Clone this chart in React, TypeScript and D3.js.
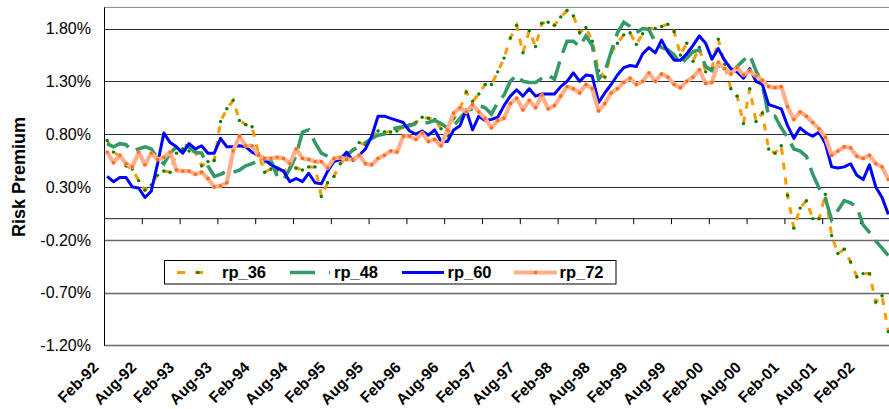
import React from "react";
import * as d3 from "d3";

const tickLabels = ["Feb-92","Aug-92","Feb-93","Aug-93","Feb-94","Aug-94","Feb-95","Aug-95","Feb-96","Aug-96","Feb-97","Aug-97","Feb-98","Aug-98","Feb-99","Aug-99","Feb-00","Aug-00","Feb-01","Aug-01","Feb-02"];
const yTicks = [1.8, 1.3, 0.8, 0.3, -0.2, -0.7, -1.2];
const seriesNames = ["rp_36", "rp_48", "rp_60", "rp_72"];

const rp36 = [0.74,0.63,0.59,0.50,0.47,0.36,0.27,0.32,0.41,0.45,0.44,0.62,0.66,0.64,0.63,0.50,0.54,0.55,0.92,1.04,1.12,0.93,0.89,0.87,0.62,0.44,0.47,0.46,0.45,0.48,0.48,0.46,0.49,0.49,0.21,0.34,0.40,0.52,0.58,0.65,0.72,0.70,0.76,0.83,0.82,0.82,0.83,0.87,0.89,0.91,0.96,0.95,0.94,0.85,0.79,0.95,1.04,1.20,1.11,1.18,1.27,1.27,1.39,1.52,1.71,1.83,1.57,1.78,1.63,1.85,1.86,1.83,1.91,1.97,1.92,1.76,1.81,1.68,1.40,1.34,1.57,1.66,1.74,1.76,1.65,1.75,1.80,1.80,1.82,1.84,1.77,1.55,1.66,1.49,1.62,1.39,1.42,1.70,1.46,1.23,1.16,0.90,1.23,0.92,1.00,0.66,0.62,0.69,0.22,-0.09,0.10,0.17,0.00,0.00,0.23,-0.16,-0.33,-0.29,-0.41,-0.55,-0.52,-0.52,-0.79,-0.73,-1.07];
const rp48 = [0.71,0.68,0.71,0.70,0.64,0.66,0.68,0.66,0.57,0.52,0.62,0.68,0.70,0.68,0.63,0.62,0.50,0.40,0.42,0.45,0.44,0.46,0.50,0.52,0.55,0.54,0.55,0.40,0.37,0.47,0.60,0.82,0.84,0.72,0.62,0.59,0.58,0.56,0.60,0.65,0.68,0.72,0.76,0.79,0.80,0.84,0.86,0.87,0.88,0.90,0.90,0.91,0.93,0.90,0.86,0.88,0.95,1.02,1.04,1.07,1.05,0.99,1.10,1.17,1.30,1.36,1.30,1.29,1.29,1.33,1.36,1.32,1.52,1.68,1.68,1.63,1.73,1.64,1.32,1.39,1.58,1.76,1.86,1.82,1.76,1.80,1.79,1.67,1.62,1.60,1.55,1.46,1.52,1.58,1.60,1.44,1.40,1.45,1.42,1.38,1.44,1.50,1.55,1.40,1.27,0.97,0.97,0.86,0.77,0.66,0.64,0.59,0.42,0.29,0.19,-0.01,0.08,0.17,0.15,0.11,-0.06,-0.13,-0.21,-0.28,-0.35];
const rp60 = [0.40,0.35,0.39,0.39,0.30,0.29,0.20,0.26,0.52,0.81,0.72,0.68,0.62,0.71,0.66,0.69,0.62,0.62,0.76,0.68,0.68,0.69,0.68,0.63,0.60,0.56,0.51,0.48,0.45,0.35,0.38,0.35,0.43,0.34,0.33,0.45,0.54,0.56,0.63,0.55,0.60,0.66,0.78,0.97,0.97,0.95,0.93,0.91,0.83,0.80,0.83,0.79,0.84,0.73,0.73,0.84,0.88,1.03,0.84,0.97,0.93,0.94,0.96,1.07,1.16,1.22,1.16,1.23,1.16,1.18,1.18,1.18,1.25,1.30,1.38,1.30,1.36,1.35,1.10,1.19,1.27,1.36,1.43,1.45,1.44,1.56,1.62,1.57,1.69,1.58,1.50,1.50,1.56,1.64,1.73,1.66,1.51,1.61,1.50,1.42,1.39,1.33,1.42,1.30,1.27,1.08,1.06,1.04,0.88,0.76,0.86,0.81,0.78,0.82,0.71,0.49,0.48,0.49,0.52,0.41,0.37,0.51,0.30,0.20,0.04];
const rp72 = [0.63,0.53,0.60,0.52,0.49,0.63,0.51,0.62,0.56,0.58,0.63,0.46,0.45,0.45,0.42,0.44,0.38,0.30,0.31,0.34,0.64,0.78,0.69,0.69,0.60,0.57,0.57,0.58,0.57,0.52,0.66,0.57,0.56,0.54,0.54,0.48,0.57,0.58,0.56,0.56,0.60,0.52,0.51,0.57,0.60,0.64,0.63,0.78,0.78,0.75,0.81,0.73,0.75,0.69,0.84,1.00,1.05,1.01,1.08,1.01,0.95,0.86,0.93,0.95,1.09,1.14,1.03,1.12,1.05,1.17,1.04,1.07,1.16,1.25,1.23,1.19,1.27,1.23,1.02,1.09,1.19,1.23,1.29,1.33,1.27,1.30,1.38,1.30,1.37,1.34,1.27,1.24,1.30,1.34,1.41,1.28,1.29,1.48,1.42,1.37,1.43,1.36,1.40,1.35,1.31,1.25,1.24,1.25,1.06,0.94,1.01,0.97,0.91,0.85,0.77,0.60,0.64,0.68,0.67,0.59,0.57,0.60,0.52,0.49,0.37];

const W = 889, H = 409;
const X0 = 104, STEP = 6.3, N = 125;
const x = d3.scaleLinear().domain([0, N]).range([X0, X0 + N * STEP]);
const y = d3.scaleLinear().domain([-1.2, 2.0]).range([345.4, 7.4]);
const line = d3.line<number>().x((_, i) => x(i + 0.5)).y((v) => y(v));

const FONT = "'Liberation Sans', Arial, Helvetica, sans-serif";

export default function App() {
  const plotRight = W;
  const legendX = [177, 290, 402, 514];
  return (
    <svg width={W} height={H} style={{ position: "fixed", left: 0, top: 0, background: "#fff" }} fontFamily={FONT}>
      <rect x={0} y={0} width={W} height={H} fill="#fff" />
      <line x1={X0} x2={plotRight} y1={y(2.0)} y2={y(2.0)} stroke="#888" strokeWidth={1} />
      {yTicks.map((t) => (
        <line key={t} x1={X0} x2={plotRight} y1={Math.round(y(t)) + 0.5} y2={Math.round(y(t)) + 0.5}
          stroke={t < 0 ? "#6a6a6a" : "#2a2a2a"} strokeWidth={t < 0 ? 1.4 : 1} />
      ))}
      {yTicks.map((t) => (
        <text key={"l" + t} x={91} y={y(t)} dy="0.36em" textAnchor="end" fontSize={16} fill="#000">
          {t.toFixed(2) + "%"}
        </text>
      ))}
      <line x1={X0 + 0.5} x2={X0 + 0.5} y1={y(2.0)} y2={y(-1.2)} stroke="#000" strokeWidth={1} />
      <line x1={X0} x2={plotRight} y1={y(0)} y2={y(0)} stroke="#222" strokeWidth={1} />
      {tickLabels.map((lab, k) => (
        <line key={"t" + k} x1={x(6 * k) + 0.5} x2={x(6 * k) + 0.5} y1={y(0)} y2={y(0) + 5.5} stroke="#000" strokeWidth={1} />
      ))}
      {tickLabels.map((lab, k) => (
        <text key={"x" + k} transform={`translate(${x(6 * k) - 4.5},368.5) rotate(-45)`} textAnchor="end" fontSize={15.5} fontWeight="bold" fill="#000">
          {lab}
        </text>
      ))}
      <text transform="translate(25,177) rotate(-90)" textAnchor="middle" fontSize={18} fontWeight="bold" fill="#000">
        Risk Premium
      </text>

      <path d={line(rp36) || ""} fill="none" stroke="#FF9900" strokeWidth={3} strokeDasharray="7,8" />
      {rp36.map((v, i) => (
        <circle key={"m36" + i} cx={x(i + 0.5)} cy={y(v)} r={1.7} fill="#008000" />
      ))}
      <path d={line(rp48) || ""} fill="none" stroke="#339966" strokeWidth={3.5} strokeDasharray="24,9" />
      <path d={line(rp60) || ""} fill="none" stroke="#0000FF" strokeWidth={3} strokeLinejoin="round" />
      <path d={line(rp72) || ""} fill="none" stroke="#FFB08A" strokeWidth={4.2} strokeLinejoin="round" />
      {rp72.map((v, i) => (
        <rect key={"m72" + i} x={x(i + 0.5) - 1.5} y={y(v) - 1.5} width={3} height={3} fill="#FF6A1A" />
      ))}

      <rect x={164.5} y={260.5} width={451.5} height={23.5} fill="#fff" stroke="#000" strokeWidth={1} />
      <line x1={legendX[0]} x2={legendX[0] + 36} y1={272.5} y2={272.5} stroke="#FF9900" strokeWidth={3} strokeDasharray="8,10" />
      <circle cx={legendX[0] + 21} cy={272.5} r={1.7} fill="#008000" />
      <line x1={legendX[1]} x2={legendX[1] + 40} y1={272.5} y2={272.5} stroke="#339966" strokeWidth={3.5} strokeDasharray="25,14" />
      <line x1={legendX[2]} x2={legendX[2] + 42} y1={272.5} y2={272.5} stroke="#0000FF" strokeWidth={3} />
      <line x1={legendX[3]} x2={legendX[3] + 43} y1={272.5} y2={272.5} stroke="#FFB08A" strokeWidth={4.2} />
      <rect x={legendX[3] + 20} y={271} width={3} height={3} fill="#FF6A1A" />
      {seriesNames.map((n, i) => (
        <text key={n} x={legendX[i] + (i === 0 ? 45 : i === 1 ? 44 : 45.5)} y={272.5} dy="0.36em" fontSize={16.5} fontWeight="bold" fill="#000">
          {n}
        </text>
      ))}
    </svg>
  );
}
